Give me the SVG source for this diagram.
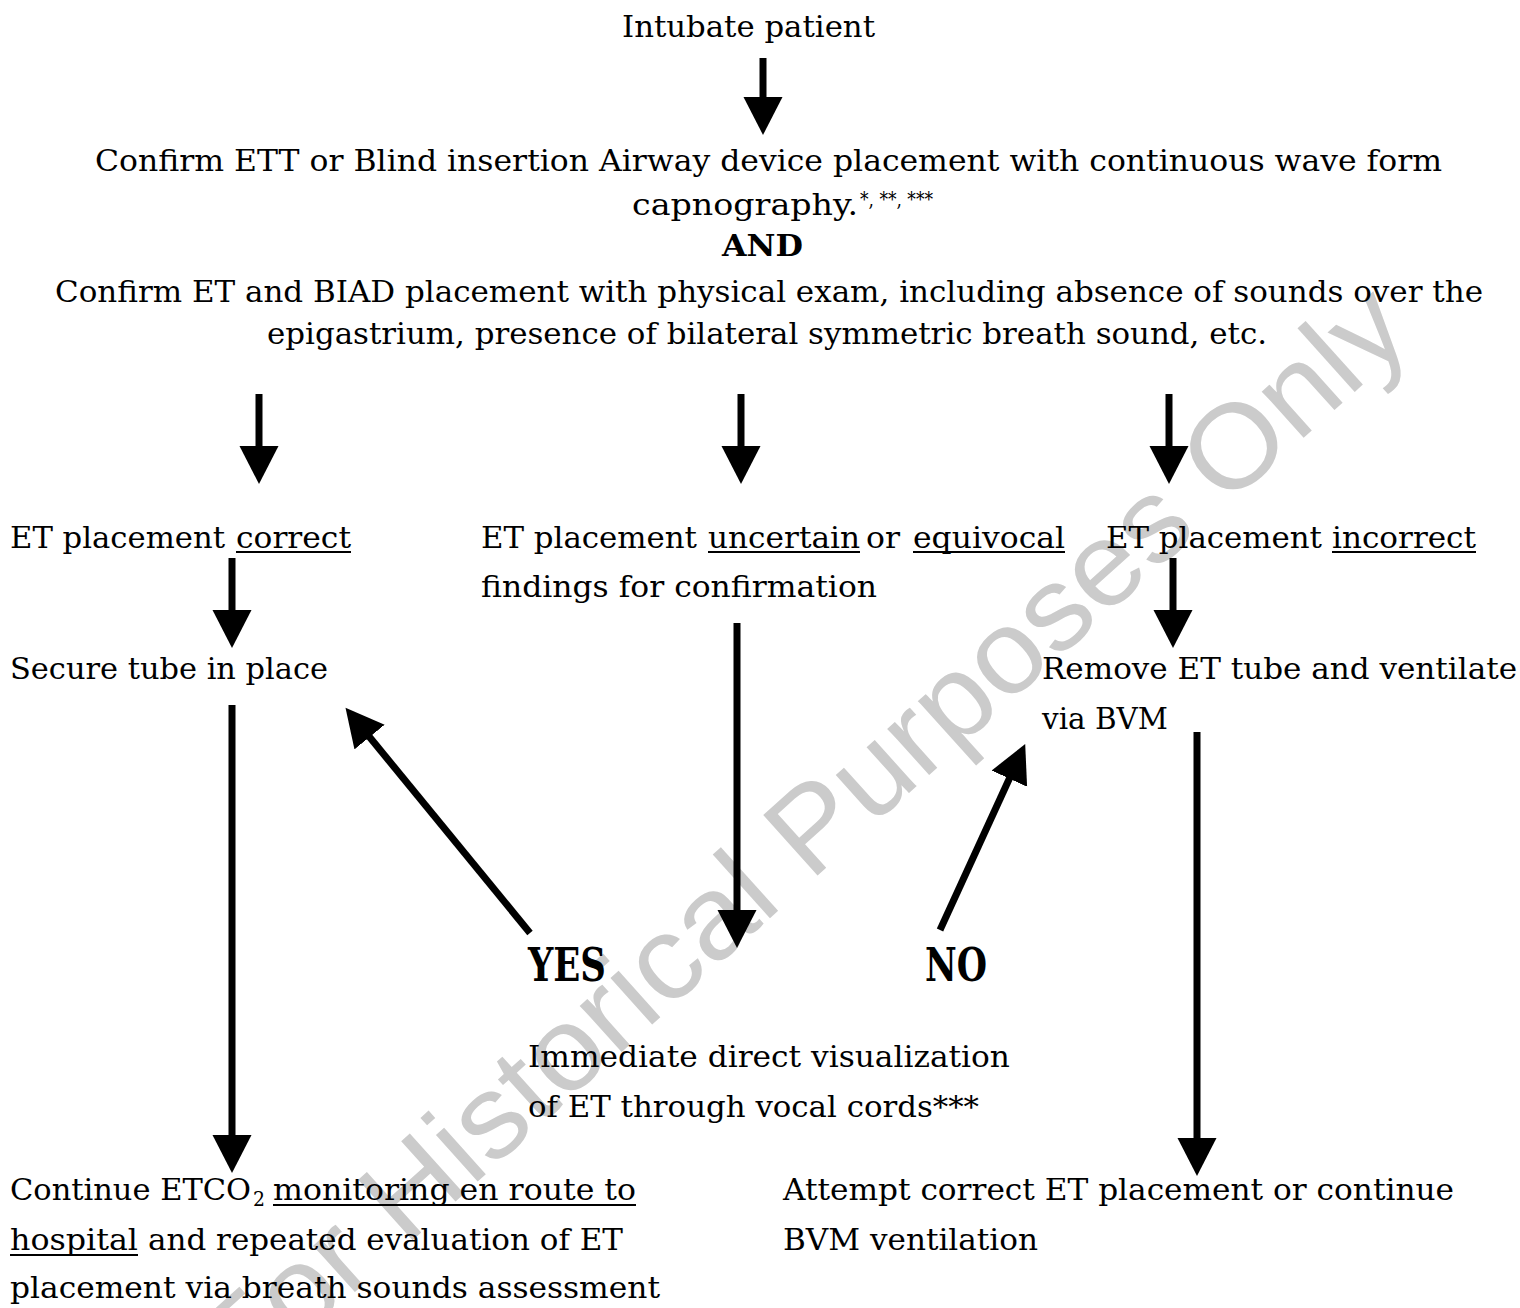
<svg xmlns="http://www.w3.org/2000/svg" width="1520" height="1308" viewBox="0 0 1520 1308">
<style>
.t{font-family:"DejaVu Serif","Liberation Serif",serif;font-size:30px;fill:#000}
.b{font-family:"DejaVu Serif","Liberation Serif",serif;font-weight:bold;fill:#000}
.s{font-family:"DejaVu Serif","Liberation Serif",serif;font-size:21px;fill:#000}
.u{stroke:#000;stroke-width:2}
.a{stroke:#000;stroke-width:7;fill:none;marker-end:url(#ah)}
.wm{font-family:"Liberation Sans",Arial,sans-serif;font-size:118px;fill:#cbcbcb}
</style>
<defs>
<marker id="ah" markerUnits="userSpaceOnUse" markerWidth="40" markerHeight="40" refX="2" refY="19.5" orient="auto" viewBox="0 0 40 40">
<path d="M0,0 L38,19.5 L0,39 Z" fill="#000"/>
</marker>
</defs>
<rect width="1520" height="1308" fill="#fff"/>
<text class="wm" x="828" y="866" text-anchor="middle" textLength="1580" lengthAdjust="spacingAndGlyphs" transform="rotate(-42 828 866)">For Historical Purposes Only</text>

<g id="connectors">
<line class="a" x1="763" y1="58" x2="763" y2="99"/>
<line class="a" x1="259" y1="394" x2="259" y2="448"/>
<line class="a" x1="741" y1="394" x2="741" y2="448"/>
<line class="a" x1="1169" y1="394" x2="1169" y2="448"/>
<line class="a" x1="232" y1="558" x2="232" y2="612"/>
<line class="a" x1="1173" y1="558" x2="1173" y2="612"/>
<line class="a" x1="232" y1="705" x2="232" y2="1137"/>
<line class="a" x1="737" y1="623" x2="737" y2="912"/>
<line class="a" x1="1197" y1="732" x2="1197" y2="1140"/>
<line class="a" x1="530" y1="933" x2="368.3" y2="735.5"/>
<line class="a" x1="940" y1="930" x2="1010.2" y2="776.8"/>
</g>

<g id="n-intubate"><text class="t" x="622" y="37" textLength="253" lengthAdjust="spacingAndGlyphs">Intubate patient</text></g>

<g id="n-confirm">
<text class="t" x="95" y="171" textLength="1347" lengthAdjust="spacingAndGlyphs">Confirm ETT or Blind insertion Airway device placement with continuous wave form</text>
<text class="t" x="632" y="215" textLength="226" lengthAdjust="spacingAndGlyphs">capnography.</text>
<text class="s" x="860" y="206" textLength="73" lengthAdjust="spacingAndGlyphs">*, **, ***</text>
<text class="b" x="722" y="256" font-size="30" textLength="81" lengthAdjust="spacingAndGlyphs">AND</text>
<text class="t" x="55" y="302" textLength="1428" lengthAdjust="spacingAndGlyphs">Confirm ET and BIAD placement with physical exam, including absence of sounds over the</text>
<text class="t" x="267" y="344" textLength="1000" lengthAdjust="spacingAndGlyphs">epigastrium, presence of bilateral symmetric breath sound, etc.</text>
</g>

<g id="n-correct">
<text class="t" x="10" y="548" textLength="215" lengthAdjust="spacingAndGlyphs">ET placement</text>
<text class="t" x="236" y="548" textLength="115" lengthAdjust="spacingAndGlyphs">correct</text>
<line class="u" x1="236" y1="552" x2="351" y2="552"/>
</g>

<g id="n-uncertain">
<text class="t" x="481" y="548" textLength="216" lengthAdjust="spacingAndGlyphs">ET placement</text>
<text class="t" x="708" y="548" textLength="152" lengthAdjust="spacingAndGlyphs">uncertain</text>
<line class="u" x1="708" y1="552" x2="860" y2="552"/>
<text class="t" x="866" y="548" textLength="34" lengthAdjust="spacingAndGlyphs">or</text>
<text class="t" x="913" y="548" textLength="152" lengthAdjust="spacingAndGlyphs">equivocal</text>
<line class="u" x1="913" y1="552" x2="1065" y2="552"/>
<text class="t" x="481" y="597" textLength="396" lengthAdjust="spacingAndGlyphs">findings for confirmation</text>
</g>

<g id="n-incorrect">
<text class="t" x="1106" y="548" textLength="216" lengthAdjust="spacingAndGlyphs">ET placement</text>
<text class="t" x="1332" y="548" textLength="144" lengthAdjust="spacingAndGlyphs">incorrect</text>
<line class="u" x1="1332" y1="552" x2="1476" y2="552"/>
</g>

<g id="n-secure"><text class="t" x="10" y="679" textLength="318" lengthAdjust="spacingAndGlyphs">Secure tube in place</text></g>

<g id="n-remove">
<text class="t" x="1042" y="679" textLength="475" lengthAdjust="spacingAndGlyphs">Remove ET tube and ventilate</text>
<text class="t" x="1042" y="729" textLength="126" lengthAdjust="spacingAndGlyphs">via BVM</text>
</g>

<g id="n-yes"><text class="b" x="528" y="981" font-size="46" textLength="78" lengthAdjust="spacingAndGlyphs">YES</text></g>
<g id="n-no"><text class="b" x="925" y="981" font-size="46" textLength="62" lengthAdjust="spacingAndGlyphs">NO</text></g>

<g id="n-visualize">
<text class="t" x="528" y="1067" textLength="482" lengthAdjust="spacingAndGlyphs">Immediate direct visualization</text>
<text class="t" x="528" y="1117" textLength="451" lengthAdjust="spacingAndGlyphs">of ET through vocal cords***</text>
</g>

<g id="n-continue">
<text class="t" x="10" y="1200" textLength="241" lengthAdjust="spacingAndGlyphs">Continue ETCO</text>
<text class="s" x="253" y="1206" font-size="18" textLength="12" lengthAdjust="spacingAndGlyphs">2</text>
<text class="t" x="273" y="1200" textLength="363" lengthAdjust="spacingAndGlyphs">monitoring en route to</text>
<line class="u" x1="273" y1="1205" x2="636" y2="1205"/>
<text class="t" x="10" y="1250" textLength="128" lengthAdjust="spacingAndGlyphs">hospital</text>
<line class="u" x1="10" y1="1255" x2="138" y2="1255"/>
<text class="t" x="148" y="1250" textLength="475" lengthAdjust="spacingAndGlyphs">and repeated evaluation of ET</text>
<text class="t" x="10" y="1298" textLength="650" lengthAdjust="spacingAndGlyphs">placement via breath sounds assessment</text>
</g>

<g id="n-attempt">
<text class="t" x="783" y="1200" textLength="671" lengthAdjust="spacingAndGlyphs">Attempt correct ET placement or continue</text>
<text class="t" x="783" y="1250" textLength="255" lengthAdjust="spacingAndGlyphs">BVM ventilation</text>
</g>
</svg>
